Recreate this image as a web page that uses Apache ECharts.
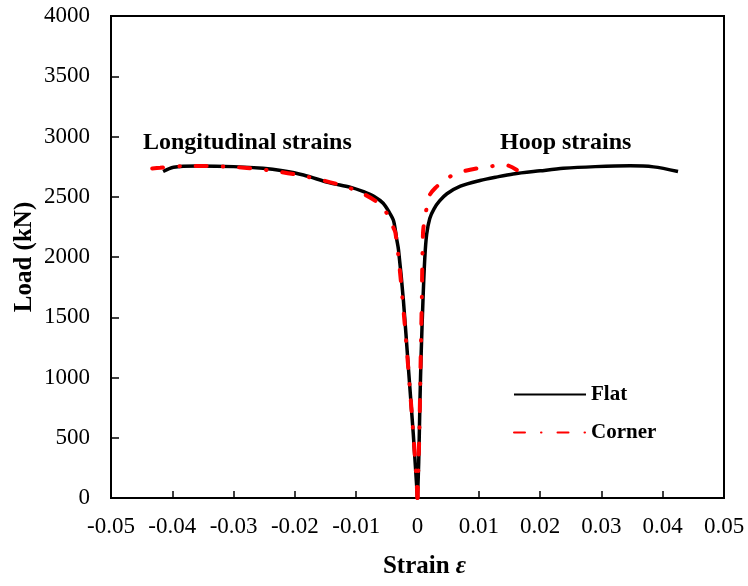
<!DOCTYPE html>
<html>
<head>
<meta charset="utf-8">
<title>Load - strain</title>
<script src="https://cdn.jsdelivr.net/npm/echarts@6/dist/echarts.min.js"></script>
<style>
  html, body { margin: 0; padding: 0; background: #fff; }
  #main { width: 748px; height: 586px; }
</style>
</head>
<body>
<div id="main"></div>
<script>
// tick labels / axis ranges
var xTicks = [-0.05, -0.04, -0.03, -0.02, -0.01, 0, 0.01, 0.02, 0.03, 0.04, 0.05];
var yTicks = [0, 500, 1000, 1500, 2000, 2500, 3000, 3500, 4000];

// [strain, load kN]
var flatLong = [
  [0, 0], [-0.0002, 150], [-0.0007, 540], [-0.0015, 1090], [-0.0023, 1640],
  [-0.0031, 2060], [-0.0034, 2150], [-0.0039, 2300], [-0.0046, 2370],
  [-0.0056, 2446], [-0.0070, 2500], [-0.0088, 2542], [-0.0110, 2580],
  [-0.0143, 2615], [-0.0186, 2680], [-0.0220, 2715], [-0.0252, 2736],
  [-0.0300, 2750], [-0.0360, 2755], [-0.0398, 2745], [-0.0415, 2710]
];
var flatHoop = [
  [0, 0], [0.0002, 300], [0.0004, 800], [0.0006, 1200], [0.0009, 1650],
  [0.0012, 2000], [0.0015, 2190], [0.0020, 2320], [0.0027, 2400],
  [0.0036, 2465], [0.0048, 2525], [0.0070, 2588], [0.0102, 2635],
  [0.0130, 2665], [0.0156, 2689], [0.0200, 2715], [0.0238, 2736],
  [0.0290, 2750], [0.0347, 2757], [0.0385, 2748], [0.0425, 2710]
];
var cornerLong = [
  [0, 0], [-0.0003, 260], [-0.0011, 815], [-0.0022, 1510], [-0.0030, 1950],
  [-0.0036, 2200], [-0.0039, 2240], [-0.0050, 2363], [-0.0067, 2459],
  [-0.0095, 2540], [-0.0126, 2598], [-0.0186, 2672], [-0.0246, 2722],
  [-0.0311, 2750], [-0.0377, 2755], [-0.0420, 2740], [-0.0444, 2728]
];
var cornerHoop = [
  [0, 0], [0.0003, 540], [0.0005, 1100], [0.0007, 1640], [0.0009, 2200],
  [0.0012, 2330], [0.0016, 2430], [0.0020, 2515], [0.0029, 2573],
  [0.0045, 2640], [0.0064, 2695], [0.0097, 2736], [0.0124, 2755],
  [0.0146, 2760], [0.0162, 2722]
];

var serif = '"Liberation Serif", "Times New Roman", serif';

var flatStyle = { color: '#000', width: 3.5 };
var cornerStyle = { color: '#ff0000', width: 4, type: [11, 16, 0.5, 16], cap: 'round' };

var chart = echarts.init(document.getElementById('main'));

chart.setOption({
  animation: false,
  backgroundColor: '#fff',
  grid: {
    left: 111, right: 24, top: 16, bottom: 88,
    outerBoundsMode: 'none',
    containLabel: false,
    show: true, borderColor: '#000', borderWidth: 2
  },
  legend: {
    data: ['Flat', 'Corner'],
    orient: 'vertical',
    left: 508,
    top: 379,
    itemWidth: 72,
    itemHeight: 14,
    itemGap: 17,
    itemStyle: { opacity: 0 },
    textStyle: { fontFamily: serif, fontWeight: 'bold', fontSize: 21, color: '#000' }
  },
  xAxis: {
    type: 'value',
    min: xTicks[0],
    max: xTicks[xTicks.length - 1],
    interval: 0.01,
    name: 'Strain {e|ε}',
    nameLocation: 'middle',
    nameGap: 56,
    nameTextStyle: {
      fontFamily: serif, fontWeight: 'bold', fontSize: 25, color: '#000',
      padding: [0, 0, 0, 14],
      rich: { e: { fontFamily: serif, fontWeight: 'bold', fontStyle: 'italic', fontSize: 25, color: '#000' } }
    },
    axisLine: { onZero: false, lineStyle: { color: '#000', width: 2 } },
    axisTick: { inside: true, length: 7, lineStyle: { color: '#000', width: 1.5 } },
    axisLabel: {
      margin: 17, fontFamily: serif, fontSize: 23, color: '#000',
      formatter: function (v) { return String(Math.round(v * 100) / 100); }
    },
    splitLine: { show: false }
  },
  yAxis: {
    type: 'value',
    min: yTicks[0],
    max: yTicks[yTicks.length - 1],
    interval: 500,
    name: 'Load (kN)',
    nameLocation: 'middle',
    nameGap: 74,
    nameMoveOverlap: false,
    nameTextStyle: { fontFamily: serif, fontWeight: 'bold', fontSize: 25, color: '#000' },
    axisLine: { show: true, onZero: false, lineStyle: { color: '#000', width: 2 } },
    axisTick: { show: true, inside: true, length: 8, lineStyle: { color: '#000', width: 1.5 } },
    axisLabel: {
      margin: 21, fontFamily: serif, fontSize: 23, color: '#000',
      formatter: function (v) { return String(v); }
    },
    splitLine: { show: false }
  },
  graphic: [
    {
      type: 'text', left: 143, top: 131,
      style: { text: 'Longitudinal strains', font: 'bold 24px ' + serif, fill: '#000' }
    },
    {
      type: 'text', left: 500, top: 131,
      style: { text: 'Hoop strains', font: 'bold 24px ' + serif, fill: '#000' }
    }
  ],
  series: [
    { name: 'Flat', type: 'line', data: flatLong, symbol: 'none', smooth: 0.3, lineStyle: flatStyle, itemStyle: { color: '#000' } },
    { name: 'Flat', type: 'line', data: flatHoop, symbol: 'none', smooth: 0.3, lineStyle: flatStyle, itemStyle: { color: '#000' } },
    { name: 'Corner', type: 'line', data: cornerLong, symbol: 'none', smooth: 0.3, lineStyle: cornerStyle, itemStyle: { color: '#ff0000' } },
    { name: 'Corner', type: 'line', data: cornerHoop, symbol: 'none', smooth: 0.3, lineStyle: cornerStyle, itemStyle: { color: '#ff0000' } }
  ]
});
</script>
</body>
</html>
